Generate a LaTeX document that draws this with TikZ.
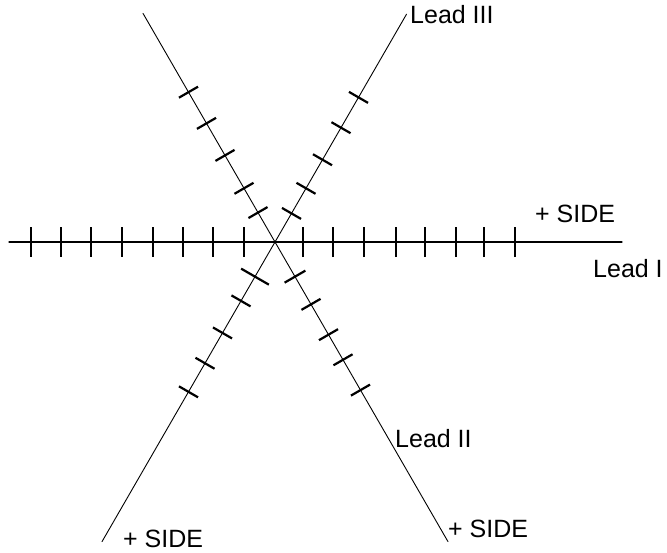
\documentclass[tikz,border=0pt]{standalone}
\usepackage{fontspec}
\setmainfont{Liberation Sans}
\usetikzlibrary{calc}
\begin{document}
\begin{tikzpicture}[x=1pt,y=-1pt,
  axis/.style={line width=0.9pt, line cap=round},
  tickmark/.style={line width=2.2pt},
  lbl/.style={font=\fontsize{25}{29}\selectfont, inner sep=0pt}]
\useasboundingbox (0,0) rectangle (667,552);
\coordinate (c) at (275,242);
\coordinate (Iw) at (9,242);
\coordinate (Ie) at (622,242);
\coordinate (IIa) at ($(c)+(240:264)$);
\coordinate (IIb) at ($(c)+(60:346)$);
\coordinate (IIIa) at ($(c)+(300:263)$);
\coordinate (IIIb) at ($(c)+(120:346)$);
\draw[axis, line width=1.2pt] (Iw) -- (Ie);
\draw[axis] (IIa) -- (IIb);
\draw[axis] (IIIa) -- (IIIb);
% ticks: angle / distance / half length
\foreach \a/\d/\h [evaluate=\a as \p using \a+90, evaluate=\a as \q using \a-90] in {
  180/31/15, 180/62/15, 180/92/15, 180/122/15, 180/153/15, 180/184/15, 180/214/15, 180/244/15,
  0/28/15, 0/58/15, 0/89/15, 0/121/15, 0/150/15, 0/181/15, 0/209/15, 0/240/15,
  240/34/11, 240/62/11, 240/100/11, 240/137/11, 240/173/11,
  300/33/11, 300/62/11, 300/95/11, 300/132/11, 300/167/11,
  120/40/16, 120/68/11, 120/105/11, 120/140/11, 120/173/11,
  60/40/12, 60/72/11, 60/107/11, 60/136/11, 60/171/11}
  \draw[tickmark] ($(c)+(\a:\d)+(\p:\h)$) -- ($(c)+(\a:\d)+(\q:\h)$);
\node[lbl, anchor=base west] (l3) at (410,23) {Lead III};
\node[lbl, anchor=base west] (s1) at (535,222) {+ SIDE};
\node[lbl, anchor=base west] (l1) at (593,277) {Lead I};
\node[lbl, anchor=base west] (l2) at (395,447) {Lead II};
\node[lbl, anchor=base west] (s2) at (448,537) {+ SIDE};
\node[lbl, anchor=base west] (s3) at (123,547) {+ SIDE};
\end{tikzpicture}
\end{document}
